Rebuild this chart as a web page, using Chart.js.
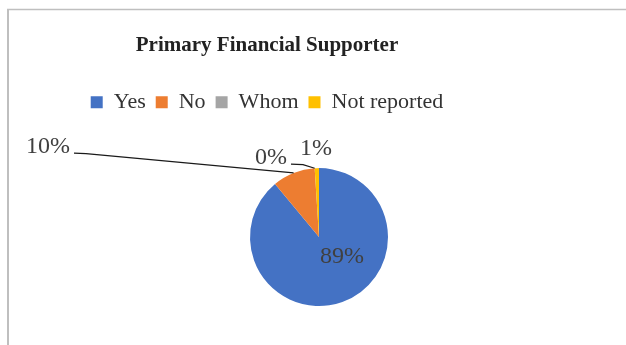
<!DOCTYPE html>
<html>
<head>
<meta charset="utf-8">
<script src="https://cdn.jsdelivr.net/npm/chart.js@4/dist/chart.umd.min.js"></script>
<style>
  html, body { margin: 0; padding: 0; background: #ffffff; overflow: hidden; }
  #c { display: block; }
</style>
</head>
<body>
<canvas id="c" width="626" height="345"></canvas>
<script>
// Who primarily supports the respondents financially (share of responses, %)
const categories = ['Yes', 'No', 'Whom', 'Not reported'];
const shares = [89, 10, 0, 1];
const sliceColors = ['#4472C4', '#ED7D31', '#A5A5A5', '#FFC000'];

// Where each percentage label sits, relative to the pie centre (px)
const labelPlacement = [
  { dx: 23,   dy: 20,  leader: false },
  { dx: -271, dy: -90, leader: true },
  { dx: -48,  dy: -79, leader: true },
  { dx: -3,   dy: -88, leader: false }
];

// The pie sits right of the centred heading block
const pieShift = { x: 52, y: 3 };

const frame = {
  id: 'frame',
  beforeDraw(chart) {
    const ctx = chart.ctx;
    ctx.save();
    ctx.strokeStyle = '#bfbfbf';
    ctx.lineWidth = 2;
    ctx.beginPath();
    ctx.moveTo(8, chart.height);
    ctx.lineTo(8, 9);
    ctx.stroke();
    ctx.lineWidth = 1.5;
    ctx.beginPath();
    ctx.moveTo(7, 9.5);
    ctx.lineTo(chart.width, 9.5);
    ctx.stroke();
    ctx.restore();
  }
};

const shiftPie = {
  id: 'shiftPie',
  afterLayout(chart) {
    const a = chart.chartArea;
    a.left += pieShift.x; a.right += pieShift.x;
    a.top += pieShift.y; a.bottom += pieShift.y;
  }
};

const percentLabels = {
  id: 'percentLabels',
  afterDatasetsDraw(chart) {
    const ctx = chart.ctx;
    const meta = chart.getDatasetMeta(0);
    ctx.save();
    ctx.font = '24px "Liberation Serif"';
    ctx.fillStyle = '#404040';
    ctx.textAlign = 'center';
    ctx.textBaseline = 'middle';
    ctx.strokeStyle = '#1a1a1a';
    ctx.lineWidth = 1.2;
    meta.data.forEach((arc, i) => {
      const { x, y, startAngle, endAngle, outerRadius } =
        arc.getProps(['x', 'y', 'startAngle', 'endAngle', 'outerRadius'], true);
      const mid = (startAngle + endAngle) / 2;
      const ax = x + Math.cos(mid) * outerRadius;
      const ay = y + Math.sin(mid) * outerRadius;
      const p = labelPlacement[i];
      const tx = x + p.dx, ty = y + p.dy;
      const text = shares[i] + '%';
      ctx.fillText(text, tx, ty);
      if (p.leader) {
        const w = ctx.measureText(text).width;
        const sx = tx + w / 2 + 4, sy = ty + 6;
        ctx.beginPath();
        ctx.moveTo(sx, sy);
        ctx.lineTo(sx + 12, sy + 0.5);
        ctx.lineTo(ax, ay);
        ctx.stroke();
      }
    });
    ctx.restore();
  }
};

new Chart(document.getElementById('c'), {
  type: 'pie',
  data: {
    labels: categories,
    datasets: [{
      data: shares,
      backgroundColor: sliceColors,
      borderWidth: 0,
      radius: 69,
      clip: false
    }]
  },
  options: {
    responsive: false,
    animation: false,
    devicePixelRatio: 1,
    layout: { padding: { left: 0, right: 92, top: 0, bottom: 0 } },
    plugins: {
      title: {
        display: true,
        text: 'Primary Financial Supporter',
        color: '#222222',
        font: { family: 'Liberation Serif', size: 21, weight: 'bold' },
        padding: { top: 33, bottom: 23 }
      },
      legend: {
        position: 'top',
        labels: {
          boxWidth: 12,
          boxHeight: 12,
          padding: 10,
          color: '#333333',
          font: { family: 'Liberation Serif', size: 22 }
        }
      },
      tooltip: { enabled: false }
    }
  },
  plugins: [frame, shiftPie, percentLabels]
});
</script>
</body>
</html>
